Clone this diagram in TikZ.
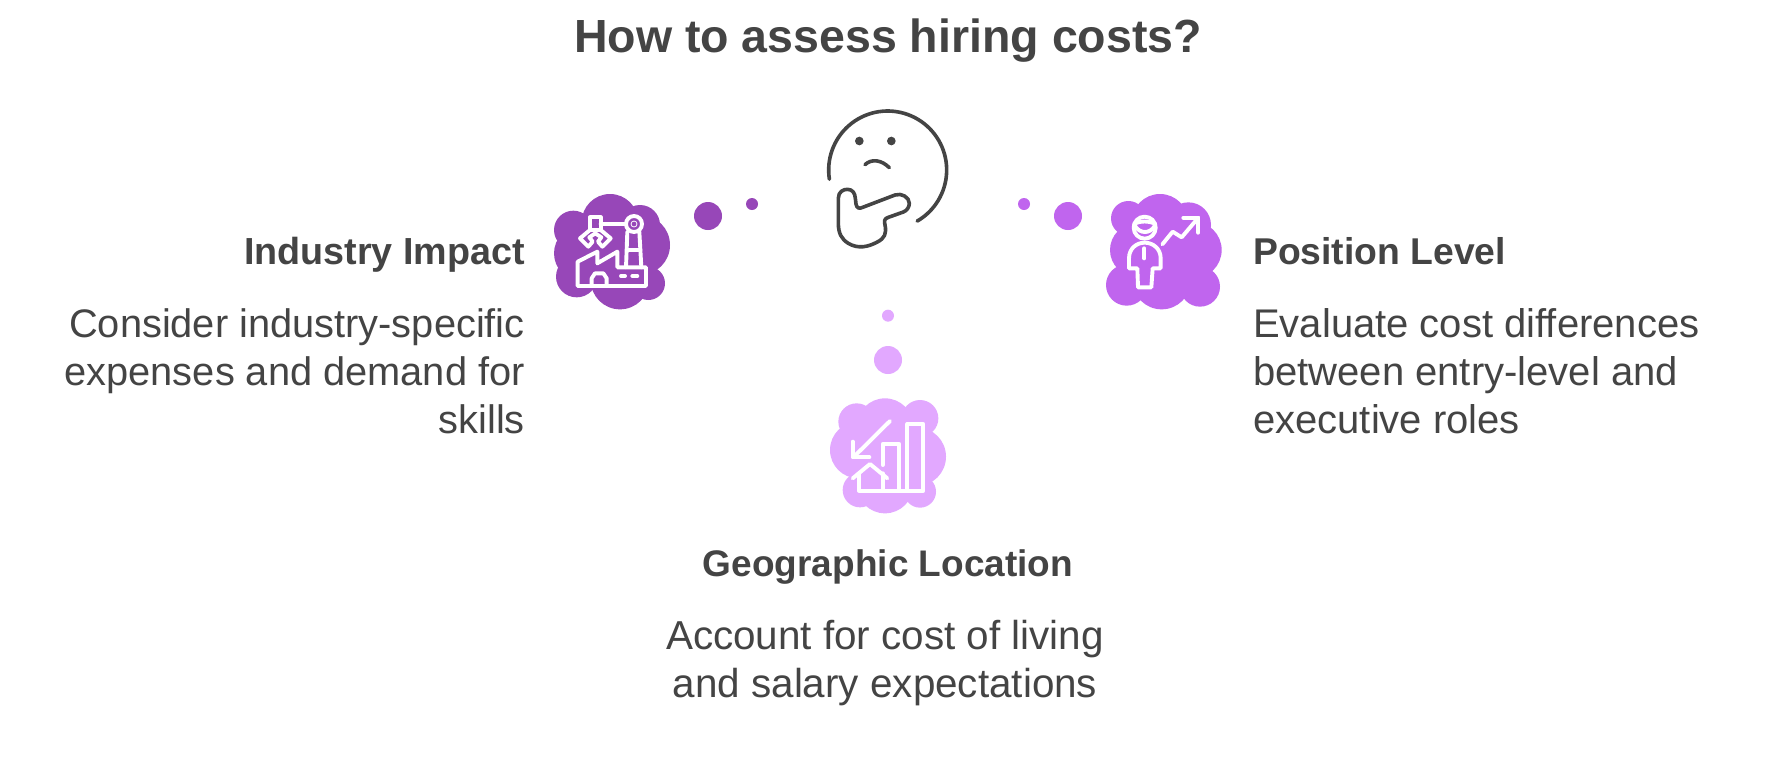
\documentclass[tikz,border=0pt]{standalone}
\usepackage{fontspec}
\setmainfont{Liberation Sans}
\definecolor{ink}{HTML}{444444}
\definecolor{cA}{HTML}{9747B8}
\definecolor{cB}{HTML}{C065EE}
\definecolor{cC}{HTML}{E2A8FF}
\tikzset{
  zoomed/.style={x=0.33333pt,y=-0.33333pt},
  icon/.style={draw=white,line width=3.9pt,line cap=round,line join=round},
  face/.style={draw=ink,line width=3.6pt,line cap=round,line join=round},
  headtext/.style={inner sep=0pt,text=ink,font=\fontsize{#1}{44}\selectfont\bfseries},
  bodytext/.style={inner sep=0pt,text=ink,font=\fontsize{#1}{48}\selectfont},
}
\newcommand{\lobes}[2]{\foreach \a/\b/\r in {#2}{\fill[#1] (\a,\b) circle (\r);}}
\begin{document}
\begin{tikzpicture}[x=1pt,y=-1pt]
\useasboundingbox (0,0) rectangle (1776,756);
\fill[white] (0,0) rectangle (1776,756);
% title
\node[inner sep=0pt,anchor=base,text=ink,font=\fontsize{46.5}{54}\selectfont\bfseries] (title) at (888,52) {How to assess hiring costs?};
% thinking face
\begin{scope}[shift={(780pt,-90pt)},zoomed]
\draw[face] plot[domain=171:420,samples=70] ({323+177*cos(\x)},{240+177*sin(\x)});
\fill[ink] (238,153) circle (13) (334,153) circle (13);
\draw[face] (255,224) .. controls (275,205) and (305,210) .. (328,233);
\draw[face] (175,400) -- (175,325) .. controls (175,305) and (190,298) .. (202,298) .. controls (218,298) and (225,310) .. (226,325) -- (228,342) .. controls (230,355) and (238,357) .. (248,352) -- (345,315) .. controls (365,308) and (388,322) .. (388,340) .. controls (388,352) and (380,362) .. (370,366) -- (325,382) .. controls (313,386) and (312,392) .. (315,405) .. controls (320,430) and (315,445) .. (290,457) .. controls (265,470) and (235,478) .. (205,460) .. controls (185,448) and (175,430) .. (175,400) -- cycle;
\end{scope}
% left
\begin{scope}[shift={(540pt,-180pt)},zoomed]
\lobes{cA}{210/127/85,100/150/58,300/135/60,300/195/90,125/220/83,110/290/62,240/300/88,325/310/50,215/215/110}
\fill[cA] (504,108) circle (42) (636,72) circle (18);
\draw[icon] (113,318) -- (113,245) -- (172,215) -- (172,250) -- (232,215) -- (232,262) -- (318,262) -- (318,318) -- cycle;
\draw[icon] (155,318) -- (155,295) -- (165,280) -- (190,280) -- (200,295) -- (200,318);
\draw[icon] (243,288) -- (255,288) (277,288) -- (292,288);
\draw[icon] (258,262) -- (262,155) (304,262) -- (298,155) (260,210) -- (302,210);
\draw[icon] (282,132) circle (24);
\draw[draw=white,line width=0.8pt] (282,132) circle (9);
\draw[icon] (182,132) -- (258,132);
\draw[icon] (150,112) -- (182,112) -- (182,150) -- (150,150) -- cycle;
\draw[icon] (150,150) -- (120,175) -- (145,200) -- (158,185) -- (148,172) -- (166,160) -- (184,172) -- (174,185) -- (187,200) -- (212,175) -- (182,150);
\end{scope}
% right
\begin{scope}[shift={(1010pt,-180pt)},zoomed]
\lobes{cB}{450/127/85,355/115/52,535/135/68,550/210/85,380/210/80,350/315/62,455/300/88,570/320/60,460/215/110}
\fill[cB] (174,108) circle (42) (42,72) circle (18);
\draw[icon] (404,143) circle (33);
\draw[icon] (372,132) .. controls (390,122) and (418,122) .. (436,132);
\draw[icon] (375,138) .. controls (390,162) and (420,162) .. (434,138);
\draw[icon] (382,265) -- (357,265) -- (357,235) .. controls (357,205) and (380,188) .. (404,188) .. controls (428,188) and (452,205) .. (452,235) -- (452,265) -- (428,265) -- (424,322) -- (384,322) -- cycle;
\draw[icon] (403,205) -- (403,235);
\draw[icon] (457,193) -- (488,155) -- (515,172) -- (565,113);
\draw[icon] (520,113) -- (565,113) -- (565,158);
\end{scope}
% bottom
\begin{scope}[shift={(810pt,-300pt)},zoomed]
\lobes{cC}{225/380/85,140/365/55,330/355/55,320/470/88,145/450/85,150/570/52,225/555/85,330/575/48,235/465/120}
\fill[cC] (234,180) circle (42) (234,47) circle (18);
\draw[icon] (240,363) -- (132,470);
\draw[icon] (128,425) -- (128,472) -- (178,472);
\draw[icon] (128,535) -- (180,492) -- (232,535);
\draw[icon] (147,520) -- (147,572) -- (340,572) -- (340,372) -- (292,372) -- (292,572);
\draw[icon] (218,495) -- (218,432) -- (268,432) -- (268,572);
\draw[icon] (218,520) -- (218,572);
\end{scope}
% texts
\node[headtext=37.7,anchor=base east] (ih) at (525,264.5) {Industry Impact};
\node[bodytext=39.8,anchor=north east,align=right] (ib) at (525,308.5) {Consider industry-specific\\expenses and demand for\\skills};
\node[headtext=37.3,anchor=base west] (ph) at (1253,264.5) {Position Level};
\node[bodytext=40,anchor=north west,align=left] (pb) at (1253,308.5) {Evaluate cost differences\\between entry-level and\\executive roles};
\node[headtext=37,anchor=base] (gh) at (888,576) {Geographic Location};
\node[bodytext=40.4,anchor=north,align=center] (gb) at (885,620) {Account for cost of living\\and salary expectations};
\end{tikzpicture}
\end{document}
